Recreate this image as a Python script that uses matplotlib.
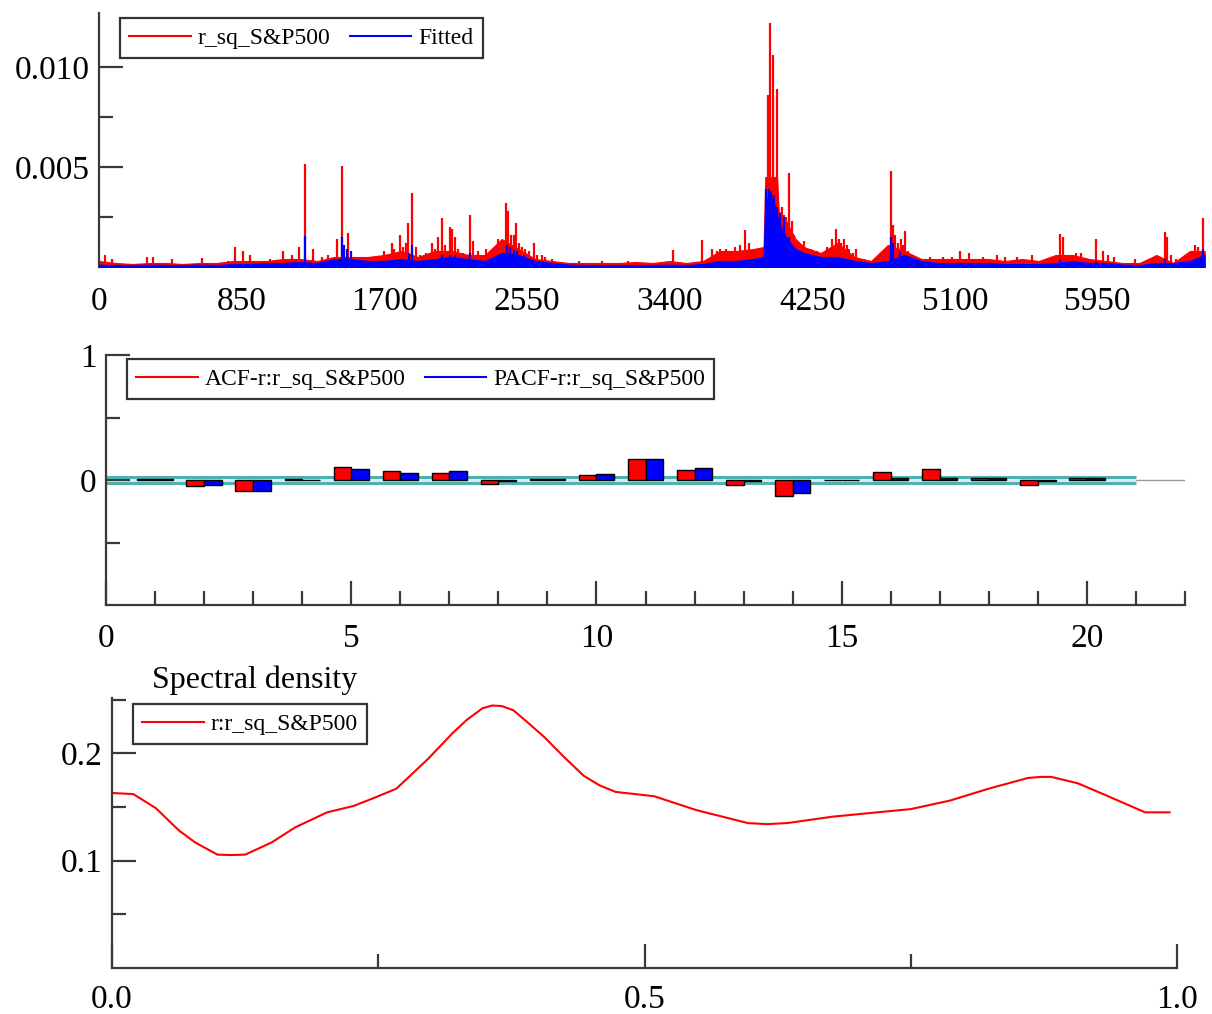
import matplotlib
matplotlib.use("Agg")
import matplotlib.pyplot as plt
from matplotlib.lines import Line2D
import numpy as np

plt.rcParams['font.family'] = ['Liberation Serif', 'DejaVu Serif']

# ---- top panel: squared returns and fitted values ----
red_band_idx = [0, 100, 200, 300, 400, 500, 600, 700, 800, 900, 1000, 1100, 1200, 1300,
                1400, 1500, 1600, 1700, 1800, 1900, 2000, 2100, 2200, 2300, 2400, 2500,
                2600, 2700, 2800, 2900, 3000, 3100, 3200, 3300, 3400, 3500, 3600, 3700,
                3800, 3900, 3960, 3970, 4040, 4050, 4100, 4150, 4200, 4300, 4400, 4500,
                4600, 4700, 4800, 4900, 5000, 5100, 5200, 5300, 5400, 5500, 5600, 5700,
                5800, 5900, 6000, 6100, 6200, 6300, 6400, 6500, 6588]
red_band = [0.0003, 0.0002, 0.00015, 0.0002, 0.0002, 0.00015, 0.0002, 0.0002, 0.0003,
            0.0003, 0.0003, 0.0004, 0.0004, 0.0003, 0.0005, 0.0005, 0.0005, 0.0006, 0.0008,
            0.0005, 0.0008, 0.0008, 0.0006, 0.0006, 0.0014, 0.0009, 0.0004, 0.0003, 0.0002,
            0.0002, 0.0002, 0.0002, 0.00025, 0.0002, 0.0003, 0.0002, 0.0003, 0.0008,
            0.0008, 0.0009, 0.0010, 0.0045, 0.0045, 0.0028, 0.0022, 0.0014, 0.0010, 0.0007,
            0.0012, 0.0005, 0.0003, 0.0011, 0.0008, 0.0004, 0.0004, 0.0004, 0.0004, 0.0004,
            0.0003, 0.0004, 0.0003, 0.0006, 0.0006, 0.0004, 0.0003, 0.0002, 0.0002, 0.0006,
            0.0002, 0.0008, 0.0008]
red_spike_idx = [36, 75, 286, 322, 435, 613, 768, 810, 858, 900, 1018, 1096, 1150, 1194,
                 1227, 1277, 1326, 1364, 1416, 1445, 1481, 1700, 1743, 1760, 1793, 1811,
                 1830, 1843, 1863, 1888, 1910, 1950, 1982, 2000, 2021, 2041, 2060, 2091,
                 2105, 2121, 2140, 2170, 2210, 2230, 2260, 2305, 2340, 2379, 2395, 2410,
                 2424, 2438, 2455, 2470, 2484, 2500, 2520, 2540, 2560, 2591, 2610, 2637,
                 2660, 2700, 2860, 3000, 3150, 3421, 3590, 3655, 3680, 3700, 3735, 3760,
                 3790, 3820, 3848, 3870, 3915, 3940, 3977, 3987, 4001, 4013, 4024, 4037,
                 4045, 4071, 4083, 4095, 4111, 4127, 4140, 4160, 4180, 4200, 4240, 4280,
                 4335, 4370, 4394, 4410, 4420, 4440, 4455, 4470, 4490, 4510, 4560, 4620,
                 4680, 4718, 4732, 4745, 4760, 4780, 4790, 4801, 4820, 4950, 5030, 5080,
                 5133, 5185, 5270, 5350, 5400, 5470, 5560, 5680, 5729, 5745, 5765, 5820,
                 5850, 5943, 5983, 6010, 6045, 6120, 6170, 6240, 6350, 6364, 6390, 6420,
                 6529, 6549, 6565, 6578]
red_spike_val = [0.0006, 0.0004, 0.0005, 0.0005, 0.0004, 0.00047, 0.0003, 0.0010, 0.0008,
                 0.0006, 0.0004, 0.0008, 0.0006, 0.0010, 0.00513, 0.0009, 0.0005, 0.0006,
                 0.0014, 0.00505, 0.0017, 0.0008, 0.0012, 0.0009, 0.0016, 0.0010, 0.0012,
                 0.0022, 0.0037, 0.0010, 0.0006, 0.0007, 0.0012, 0.0009, 0.0015, 0.00243,
                 0.0011, 0.0020, 0.0019, 0.0015, 0.0009, 0.0007, 0.0026, 0.0013, 0.0008,
                 0.0009, 0.0008, 0.0014, 0.0011, 0.0008, 0.0032, 0.0028, 0.0016, 0.0016,
                 0.0022, 0.0012, 0.0010, 0.0009, 0.0008, 0.0012, 0.0006, 0.0006, 0.0005,
                 0.0004, 0.0003, 0.0003, 0.0003, 0.00085, 0.00135, 0.0009, 0.0008, 0.0009,
                 0.0009, 0.0008, 0.0010, 0.0011, 0.00185, 0.0012, 0.0009, 0.0008, 0.0011,
                 0.0086, 0.01222, 0.0106, 0.0045, 0.0089, 0.0030, 0.0030, 0.0026, 0.0025,
                 0.00472, 0.0023, 0.0016, 0.0013, 0.0011, 0.0013, 0.0009, 0.0008, 0.0010,
                 0.0014, 0.0019, 0.0014, 0.0012, 0.0014, 0.0011, 0.0009, 0.0007, 0.0009,
                 0.0004, 0.0003, 0.0004, 0.0048, 0.0021, 0.0016, 0.0012, 0.0014, 0.0011,
                 0.0018, 0.0008, 0.0005, 0.0005, 0.0005, 0.0008, 0.0007, 0.0005, 0.0006,
                 0.0005, 0.0005, 0.0006, 0.0005, 0.00163, 0.0015, 0.0006, 0.0007, 0.0007,
                 0.00142, 0.0008, 0.0006, 0.0005, 0.0002, 0.0004, 0.0003, 0.00177, 0.0015,
                 0.0006, 0.0004, 0.0011, 0.0010, 0.0008, 0.00243]

fit_band_idx = [0, 100, 200, 300, 400, 500, 600, 700, 800, 900, 1000, 1100, 1200, 1300,
                1400, 1500, 1600, 1700, 1800, 1900, 2000, 2100, 2200, 2300, 2400, 2500,
                2600, 2700, 2800, 2900, 3000, 3100, 3200, 3300, 3400, 3500, 3600, 3700,
                3800, 3900, 3960, 3970, 4000, 4030, 4050, 4100, 4150, 4200, 4300, 4400,
                4500, 4600, 4700, 4800, 4900, 5000, 5100, 5200, 5300, 5400, 5500, 5600,
                5700, 5800, 5900, 6000, 6100, 6200, 6300, 6400, 6500, 6588]
fit_band = [0.00012, 0.0001, 0.0001, 0.00012, 0.0001, 0.0001, 0.00012, 0.0001, 0.00015,
            0.00015, 0.0002, 0.0002, 0.00025, 0.0002, 0.0004, 0.0004, 0.0003, 0.0003,
            0.0004, 0.0003, 0.0004, 0.0005, 0.0004, 0.0003, 0.0007, 0.0006, 0.0003, 0.0002,
            0.00012, 0.0001, 0.0001, 0.0001, 0.0001, 0.0001, 0.00012, 0.0001, 0.00015,
            0.0003, 0.0003, 0.0004, 0.0005, 0.0033, 0.0036, 0.0030, 0.0022, 0.0014, 0.0009,
            0.0007, 0.0005, 0.0005, 0.0003, 0.0002, 0.0003, 0.0006, 0.0003, 0.0002, 0.0002,
            0.0002, 0.0002, 0.00015, 0.00015, 0.00015, 0.0002, 0.0003, 0.0002, 0.0002,
            0.00012, 0.0001, 0.0002, 0.0002, 0.0003, 0.0006]
fit_spike_idx = [1227, 1445, 1460, 1480, 1500, 1850, 1863, 2045, 2091, 2120, 2210, 2430,
                 2450, 2470, 2490, 2530, 3975, 3990, 4005, 4020, 4040, 4060, 4080, 4110,
                 4718, 4730, 4770, 5729, 5943, 6350, 6578]
fit_spike_val = [0.00155, 0.0015, 0.0011, 0.0009, 0.0008, 0.0007, 0.0011, 0.0006, 0.0006,
                 0.0006, 0.0007, 0.0011, 0.0010, 0.0009, 0.0008, 0.0006, 0.0039, 0.0039,
                 0.0038, 0.0036, 0.0030, 0.0027, 0.0025, 0.0015, 0.0015, 0.0012, 0.0008,
                 0.0004, 0.0003, 0.0004, 0.0009]
top_xticks = [0, 850, 1700, 2550, 3400, 4250, 5100, 5950]

# ---- middle panel: ACF / PACF ----
lags = list(range(1, 21))
acf_vals = [0.005, -0.045, -0.09, 0.005, 0.105, 0.07, 0.053, -0.035, 0.01, 0.04,
            0.165, 0.08, -0.04, -0.13, 0.003, 0.067, 0.085, 0.015, -0.04, 0.015]
pacf_vals = [0.005, -0.04, -0.09, 0.003, 0.085, 0.053, 0.07, -0.005, 0.01, 0.045,
             0.165, 0.1, -0.005, -0.10, 0.003, 0.015, 0.015, 0.015, -0.005, 0.015]
conf_band = 0.0246

# ---- bottom panel: spectral density ----
freq = [0.0, 0.02, 0.041, 0.063, 0.078, 0.099, 0.112, 0.125, 0.150, 0.172, 0.202, 0.227,
        0.245, 0.267, 0.297, 0.32, 0.333, 0.348, 0.357, 0.366, 0.377, 0.39, 0.406, 0.425,
        0.443, 0.458, 0.473, 0.509, 0.549, 0.597, 0.615, 0.634, 0.677, 0.750, 0.787,
        0.823, 0.860, 0.872, 0.882, 0.907, 0.933, 0.970, 0.993]
density = [0.163, 0.162, 0.149, 0.128, 0.117, 0.1056, 0.1052, 0.1056, 0.117, 0.131, 0.145,
           0.151, 0.158, 0.167, 0.195, 0.219, 0.231, 0.242, 0.2445, 0.244, 0.240, 0.229,
           0.215, 0.196, 0.179, 0.170, 0.164, 0.160, 0.147, 0.135, 0.134, 0.135, 0.141,
           0.148, 0.156, 0.167, 0.177, 0.178, 0.178, 0.172, 0.161, 0.145, 0.145]

W, H = 1212, 1014
fig = plt.figure(figsize=(W / 100, H / 100), dpi=100)
axis_col = '#3a3a3a'
tick_fs = 24
leg_fs = 17


def px_axes(x0, y0, x1, y1):
    return fig.add_axes([x0 / W, 1 - y1 / H, (x1 - x0) / W, (y1 - y0) / H])


def style(ax, spines):
    for s in ['top', 'right', 'left', 'bottom']:
        ax.spines[s].set_visible(s in spines)
        ax.spines[s].set_color(axis_col)
        ax.spines[s].set_linewidth(1.6)
    ax.tick_params(which='both', direction='in', colors=axis_col, width=1.6,
                   labelcolor='black', labelsize=tick_fs)
    ax.tick_params(which='major', length=17)
    ax.tick_params(which='minor', length=10)
    ax.set_facecolor('none')


def make_legend(ax, handles, labels, x0, y0, ncol=1):
    lg = ax.legend(handles, labels, ncol=ncol, loc='upper left',
                   bbox_to_anchor=(x0 / W, 1 - y0 / H), bbox_transform=fig.transFigure,
                   fontsize=leg_fs, frameon=True, fancybox=False, borderaxespad=0,
                   handlelength=2.6, handletextpad=0.3, columnspacing=0.8,
                   borderpad=0.4)
    lg.get_frame().set_edgecolor('black')
    lg.get_frame().set_linewidth(1.6)
    return lg


# top
ax1 = px_axes(99, 13, 1205, 267)
ax1.fill_between(red_band_idx, 0, red_band, color='red', lw=0.8, zorder=2)
ax1.vlines(red_spike_idx, 0, red_spike_val, color='red', lw=1.6, zorder=2)
ax1.fill_between(fit_band_idx, 0, fit_band, color='blue', lw=0.8, zorder=3)
ax1.vlines(fit_spike_idx, 0, fit_spike_val, color='blue', lw=1.6, zorder=3)
ax1.set_xlim(0, 6590)
ax1.set_ylim(0, 0.0127)
style(ax1, ['left'])
ax1.set_yticks([0.005, 0.010])
ax1.set_yticklabels(['0.005', '0.010'])
ax1.set_yticks([0.0025, 0.0075], minor=True)
ax1.set_xticks(top_xticks)
ax1.tick_params(axis='x', which='both', length=0, pad=14)
ax1.tick_params(axis='y', pad=7)
make_legend(ax1, [Line2D([], [], color='red', lw=1.5), Line2D([], [], color='blue', lw=1.5)],
            ['r_sq_S&P500', 'Fitted'], 120, 18, ncol=2)

# middle
ax2 = px_axes(106, 355, 1185, 605)
ax2.axhline(0, color='#999999', lw=1, zorder=1)
ax2.fill_between([0, 21], -conf_band, conf_band, color='#dcecec', lw=0, zorder=1)
ax2.hlines([-conf_band, conf_band], 0, 21, color='#4fb0b0', lw=2.2, zorder=2)
bw = 0.36
ax2.bar(np.array(lags) - bw / 2, acf_vals, width=bw, color='red', edgecolor='black',
        lw=1, zorder=3)
ax2.bar(np.array(lags) + bw / 2, pacf_vals, width=bw, color='blue', edgecolor='black',
        lw=1, zorder=3)
ax2.set_xlim(0, 22)
ax2.set_ylim(-1, 1)
style(ax2, ['left', 'bottom'])
ax2.set_xticks([0, 5, 10, 15, 20])
ax2.set_xticks(range(0, 23), minor=True)
ax2.set_yticks([0, 1])
ax2.set_yticks([-0.5, 0.5], minor=True)
ax2.tick_params(axis='x', pad=13)
ax2.tick_params(axis='y', pad=7)
make_legend(ax2, [Line2D([], [], color='red', lw=1.5), Line2D([], [], color='blue', lw=1.5)],
            ['ACF-r:r_sq_S&P500', 'PACF-r:r_sq_S&P500'], 127, 359, ncol=2)

# bottom
ax3 = px_axes(112, 698, 1177, 968)
ax3.plot(freq, density, color='red', lw=1.5)
ax3.set_xlim(0, 1)
ax3.set_ylim(0, 0.2515)
style(ax3, ['left', 'bottom'])
ax3.set_xticks([0.0, 0.5, 1.0])
ax3.set_xticklabels(['0.0', '0.5', '1.0'])
ax3.set_xticks([0.25, 0.75], minor=True)
ax3.set_yticks([0.1, 0.2])
ax3.set_yticklabels(['0.1', '0.2'])
ax3.set_yticks([0.05, 0.15, 0.25], minor=True)
ax3.tick_params(axis='x', pad=12)
ax3.tick_params(axis='y', pad=7)
fig.text(152 / W, 1 - 680 / H, 'Spectral density', fontsize=23, ha='left', va='center')
make_legend(ax3, [Line2D([], [], color='red', lw=1.5)], ['r:r_sq_S&P500'], 133, 704)

fig.savefig('out.png', dpi=100)
